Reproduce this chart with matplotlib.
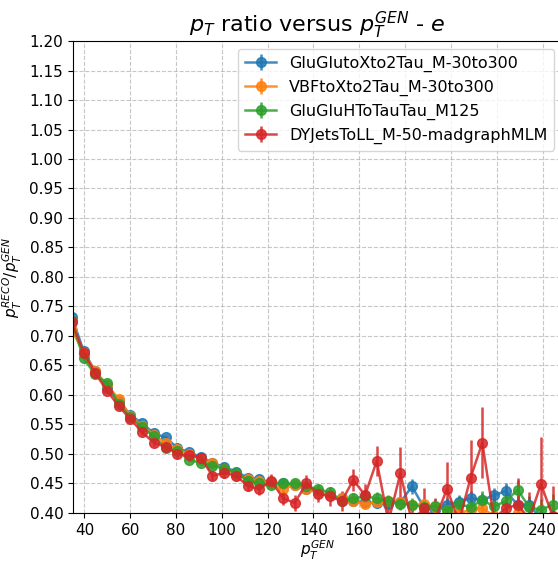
import numpy as np
import matplotlib
matplotlib.use("Agg")
import matplotlib.pyplot as plt

# bin centres of pT^GEN
pt_gen = [34.5, 39.6, 44.7, 49.9, 55.0, 60.1, 65.2, 70.3, 75.5, 80.6,
          85.7, 90.8, 95.9, 101.1, 106.2, 111.3, 116.4, 121.5, 126.7, 131.8,
          136.9, 142.0, 147.1, 152.3, 157.4, 162.5, 167.6, 172.7, 177.9, 183.0,
          188.1, 193.2, 198.3, 203.5, 208.6, 213.7, 218.8, 223.9, 229.1, 234.2,
          239.3, 244.4]

labels = ["GluGlutoXto2Tau_M-30to300", "VBFtoXto2Tau_M-30to300",
          "GluGluHToTauTau_M125", "DYJetsToLL_M-50-madgraphMLM"]

ratio_ggx = [0.732, 0.675, 0.640, 0.612, 0.589, 0.566, 0.552, 0.535, 0.528, 0.510,
             0.503, 0.495, 0.485, 0.478, 0.470, 0.460, 0.457, 0.452, 0.450, 0.447,
             0.440, 0.435, 0.430, 0.425, 0.420, 0.418, 0.417, 0.415, 0.418, 0.445,
             0.410, 0.405, 0.414, 0.419, 0.425, 0.422, 0.430, 0.437, 0.414, 0.414,
             0.390, 0.380]
err_ggx = [0.004, 0.003, 0.003, 0.003, 0.003, 0.003, 0.003, 0.003, 0.003, 0.003,
           0.003, 0.003, 0.004, 0.004, 0.004, 0.004, 0.005, 0.005, 0.005, 0.005,
           0.006, 0.006, 0.006, 0.007, 0.007, 0.007, 0.008, 0.008, 0.009, 0.012,
           0.010, 0.010, 0.011, 0.011, 0.012, 0.012, 0.013, 0.014, 0.014, 0.015,
           0.015, 0.016]

ratio_vbf = [0.710, 0.672, 0.640, 0.617, 0.593, 0.565, 0.548, 0.533, 0.518, 0.508,
             0.500, 0.490, 0.485, 0.475, 0.465, 0.458, 0.455, 0.450, 0.440, 0.448,
             0.440, 0.435, 0.430, 0.425, 0.420, 0.415, 0.418, 0.420, 0.418, 0.413,
             0.415, 0.410, 0.405, 0.400, 0.405, 0.408, 0.395, 0.390, 0.400, 0.385,
             0.380, 0.390]
err_vbf = [0.004, 0.003, 0.003, 0.003, 0.003, 0.003, 0.003, 0.003, 0.003, 0.003,
           0.003, 0.003, 0.004, 0.004, 0.004, 0.004, 0.004, 0.005, 0.005, 0.005,
           0.005, 0.006, 0.006, 0.006, 0.007, 0.007, 0.007, 0.008, 0.008, 0.008,
           0.009, 0.009, 0.010, 0.010, 0.011, 0.011, 0.012, 0.012, 0.013, 0.013,
           0.014, 0.014]

ratio_ggh = [0.725, 0.662, 0.635, 0.620, 0.585, 0.562, 0.545, 0.530, 0.510, 0.505,
             0.490, 0.485, 0.480, 0.475, 0.468, 0.455, 0.450, 0.448, 0.450, 0.450,
             0.445, 0.440, 0.435, 0.420, 0.425, 0.428, 0.425, 0.420, 0.416, 0.414,
             0.410, 0.411, 0.405, 0.415, 0.410, 0.422, 0.411, 0.420, 0.439, 0.410,
             0.405, 0.414]
err_ggh = [0.004, 0.004, 0.004, 0.004, 0.004, 0.004, 0.004, 0.004, 0.004, 0.004,
           0.004, 0.004, 0.005, 0.005, 0.005, 0.005, 0.006, 0.006, 0.006, 0.007,
           0.007, 0.007, 0.008, 0.008, 0.009, 0.009, 0.010, 0.010, 0.011, 0.011,
           0.012, 0.012, 0.013, 0.013, 0.014, 0.015, 0.015, 0.016, 0.017, 0.017,
           0.018, 0.018]

ratio_dy = [0.724, 0.672, 0.637, 0.607, 0.581, 0.559, 0.537, 0.519, 0.512, 0.500,
            0.498, 0.494, 0.463, 0.468, 0.463, 0.446, 0.440, 0.455, 0.425, 0.417,
            0.450, 0.433, 0.428, 0.420, 0.456, 0.430, 0.488, 0.385, 0.467, 0.385,
            0.408, 0.390, 0.441, 0.385, 0.460, 0.519, 0.390, 0.408, 0.414, 0.390,
            0.449, 0.395]
err_dy = [0.004, 0.004, 0.004, 0.004, 0.004, 0.004, 0.005, 0.005, 0.005, 0.006,
          0.006, 0.007, 0.007, 0.008, 0.009, 0.009, 0.010, 0.011, 0.012, 0.013,
          0.014, 0.015, 0.016, 0.017, 0.018, 0.019, 0.025, 0.030, 0.045, 0.030,
          0.035, 0.035, 0.045, 0.040, 0.064, 0.060, 0.045, 0.040, 0.045, 0.045,
          0.080, 0.050]

series = [(ratio_ggx, err_ggx), (ratio_vbf, err_vbf),
          (ratio_ggh, err_ggh), (ratio_dy, err_dy)]

fig = plt.figure(figsize=(5.58, 5.61), dpi=100)
ax = fig.add_axes([0.1308, 0.0856, 0.8764, 0.8413])

for (vals, errs), lab in zip(series, labels):
    ax.errorbar(pt_gen, vals, yerr=errs, fmt='-o', ms=7, lw=1.8,
                elinewidth=1.8, alpha=0.85, label=lab)

ax.set_xlim(35, 248.5)
ax.set_ylim(0.40, 1.20)
ax.set_xticks(np.arange(40, 241, 20))
ax.set_yticks(np.arange(0.40, 1.201, 0.05))
ax.tick_params(labelsize=11)
ax.grid(True, linestyle='--', alpha=0.7)
ax.set_title(r"$p_T$ ratio versus $p_T^{GEN}$ - $e$", fontsize=16)
ax.set_xlabel(r"$p_T^{GEN}$", fontsize=11, labelpad=1)
ax.set_ylabel(r"$p_T^{RECO}/p_T^{GEN}$", fontsize=11)
ax.legend(loc='upper right', fontsize=11.5)

fig.savefig("out.png", dpi=100)
